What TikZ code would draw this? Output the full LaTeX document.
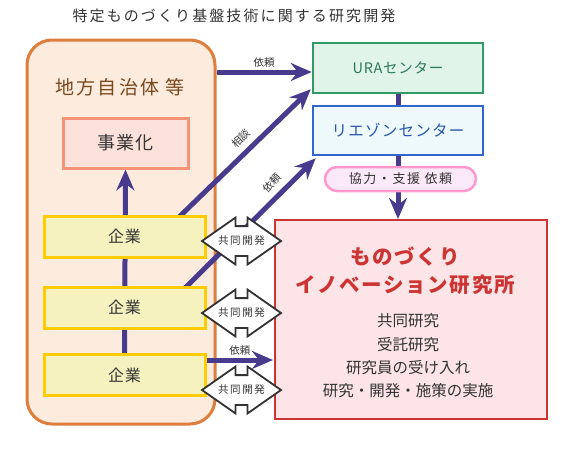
\documentclass[tikz,border=0pt]{standalone}
\usepackage{fontspec}
\setmainfont{Noto Sans CJK JP}
\usepackage{tikz}
\usetikzlibrary{arrows.meta}
\usetikzlibrary{calc}
\usetikzlibrary{shapes.arrows}

\definecolor{flowpurple}{RGB}{72,58,140}
\definecolor{textgray}{RGB}{51,51,51}
\definecolor{chihoedge}{RGB}{222,125,60}
\definecolor{chihofill}{RGB}{253,236,221}
\definecolor{chihotext}{RGB}{122,72,30}
\definecolor{jigyoedge}{RGB}{245,148,118}
\definecolor{jigyofill}{RGB}{253,226,220}
\definecolor{kigyoedge}{RGB}{255,204,0}
\definecolor{kigyofill}{RGB}{245,242,192}
\definecolor{uraedge}{RGB}{51,153,102}
\definecolor{urafill}{RGB}{224,244,234}
\definecolor{uratext}{RGB}{45,122,85}
\definecolor{liaisonedge}{RGB}{51,102,204}
\definecolor{liaisonfill}{RGB}{238,249,252}
\definecolor{liaisontext}{RGB}{40,85,170}
\definecolor{pilledge}{RGB}{255,153,204}
\definecolor{pillfill}{RGB}{251,232,248}
\definecolor{kenkyuedge}{RGB}{204,51,51}
\definecolor{kenkyufill}{RGB}{253,228,230}

\pgfdeclarelayer{back}
\pgfdeclarelayer{mid}
\pgfsetlayers{back,mid,main}

\tikzset{
	flow/.style={line width=5pt, draw=flowpurple, -{Stealth[length=21pt,width=18pt,inset=7pt]}},
	box/.style={rectangle, inner sep=0pt, align=center, text=textgray},
	titletext/.style={text=textgray, inner sep=0pt, font={\fontsize{15}{18}\selectfont\addfontfeatures{LetterSpace=14}}},
	chihobox/.style={box, draw=chihoedge, fill=chihofill, line width=3pt, rounded corners=25pt, minimum width=188pt, minimum height=384pt},
	chihoname/.style={text=chihotext, inner sep=0pt, font={\fontsize{19}{22}\selectfont\addfontfeatures{LetterSpace=12}}},
	jigyobox/.style={box, draw=jigyoedge, fill=jigyofill, line width=3pt, minimum width=125pt, minimum height=50pt, font={\fontsize{18}{20}\selectfont\addfontfeatures{LetterSpace=6}}},
	kigyobox/.style={box, draw=kigyoedge, fill=kigyofill, line width=3pt, minimum width=161pt, minimum height=41pt, font={\fontsize{16}{18}\selectfont\addfontfeatures{LetterSpace=6}}},
	urabox/.style={box, draw=uraedge, fill=urafill, text=uratext, line width=2.5pt, minimum width=170pt, minimum height=50pt, font={\fontsize{14.5}{18}\selectfont\addfontfeatures{LetterSpace=5}}},
	liaisonbox/.style={box, draw=liaisonedge, fill=liaisonfill, text=liaisontext, line width=2.5pt, minimum width=170pt, minimum height=49pt, font={\fontsize{15.5}{18}\selectfont\addfontfeatures{LetterSpace=8}}},
	pillbox/.style={box, draw=pilledge, fill=pillfill, line width=2.5pt, rounded corners=12pt, minimum width=151pt, minimum height=24pt, font={\fontsize{13}{15}\selectfont\addfontfeatures{LetterSpace=12}}},
	kenkyubox/.style={box, draw=kenkyuedge, fill=kenkyufill, line width=2pt, minimum width=272pt, minimum height=199pt},
	kenkyutitle/.style={align=center, text=kenkyuedge, inner sep=0pt, font={\fontsize{20.5}{28}\selectfont\bfseries\addfontfeatures{LetterSpace=8}}},
	kenkyutext/.style={align=center, text=textgray, inner sep=0pt, font={\fontsize{15.5}{23.3}\selectfont}},
	kyodo/.style={double arrow, draw=textgray, fill=white, line width=1.8pt, minimum height=79pt, minimum width=45pt, inner ysep=14pt, inner xsep=0pt, double arrow head extend=8.5pt, double arrow tip angle=70},
	kyodotxt/.style={text=textgray, inner sep=0pt, font={\fontsize{10.5}{12}\selectfont\addfontfeatures{LetterSpace=15}}},
	smalllabel/.style={text=textgray, inner sep=2pt, font={\fontsize{10.5}{12}\selectfont}},
}

\begin{document}
\begin{tikzpicture}[x=1pt, y=-1pt]
	\useasboundingbox (0,0) rectangle (582,448);
	
	\node[titletext] (title) at (234,16) {特定ものづくり基盤技術に関する研究開発};
	
	\begin{pgfonlayer}{back}
		\node[chihobox] (chiho) at (121,232) {};
	\end{pgfonlayer}
	\node[chihoname] (chihoname) at (120,87) {地方自治体 等};
	\node[jigyobox] (jigyo) at (125.5,143) {事業化};
	\node[kigyobox] (kigyo1) at (124.5,236.5) {企業};
	\node[kigyobox] (kigyo2) at (124.5,307.5) {企業};
	\node[kigyobox] (kigyo3) at (124.5,375) {企業};
	
	\node[urabox] (ura) at (398,68) {URAセンター};
	\node[liaisonbox] (liaison) at (398,130.5) {リエゾンセンター};
	\node[pillbox] (shien) at (400.5,179) {協力・支援 依頼};
	
	\node[kenkyubox] (kenkyu) at (411,319.5) {};
	\node[kenkyutitle] (kname) at (405,271) {ものづくり\\イノベーション研究所};
	\node[kenkyutext] (kwork) at (408,356) {共同研究\\受託研究\\研究員の受け入れ\\研究・開発・施策の実施};
	
	% 共同開発
	\foreach \i/\y in {1/241, 2/313, 3/390} {
		\node[kyodo] (kyodo\i) at (241.5,\y) {};
		\node[kyodotxt] (kyodotxt\i) at (kyodo\i) {共同開発};
	}
	
	\begin{pgfonlayer}{mid}
		\draw[flow] (kigyo3.north) -- (jigyo.south);
		
		\coordinate (urain) at ($(ura.west)+(0,4)$);
		\draw[flow] (chiho.east |- urain) -- (urain) node[smalllabel, midway, above] {依頼};
		
		\draw[flow] ($(kigyo1.north east)+(-30,5)$) -- ($(ura.south west)+(-1,-5)$) node[smalllabel, sloped, pos=0.55, above=4pt] {相談};
		\draw[flow] ($(kigyo2.north east)+(-24,5)$) -- ($(liaison.south west)+(4,2)$) node[smalllabel, sloped, pos=0.74, above=4pt] {依頼};
		
		\draw[flow] (ura.south) -- (ura.south |- kenkyu.north);
		
		\coordinate (irai) at ($(kigyo3.east)+(0,-15)$);
		\draw[flow] (irai) -- ($(kenkyu.west |- irai)+(-1,0)$) node[smalllabel, midway, above] {依頼};
	\end{pgfonlayer}
\end{tikzpicture}
\end{document}
